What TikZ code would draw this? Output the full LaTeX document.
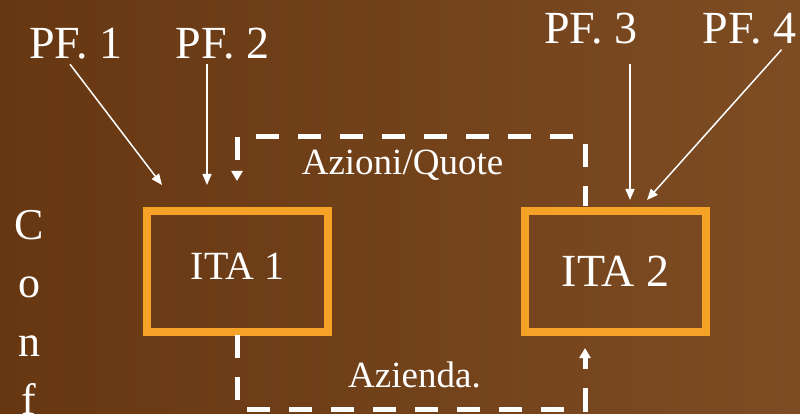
\documentclass[tikz,border=0pt]{standalone}
\usepackage{fontspec}
\setmainfont{Liberation Serif}
\usetikzlibrary{arrows.meta}
\definecolor{bgA}{HTML}{673712}
\definecolor{bgB}{HTML}{7D4C23}
\definecolor{boxor}{HTML}{F5A226}
\begin{document}
\begin{tikzpicture}[x=1pt,y=-1pt,
  lbl/.style={text=white,inner sep=0pt,font=\fontsize{46}{46}\selectfont},
  entity/.style={draw=boxor,line width=8pt,minimum width=181pt,minimum height=121pt,text=white,inner sep=0pt},
  feed/.style={draw=white,line width=1.5pt,-{Triangle[length=11pt,width=9pt]}},
  flow/.style={draw=white,line width=5pt,dash pattern=on 23pt off 19pt,-{Triangle[length=10pt,width=11pt]}},
  flowlbl/.style={text=white,inner sep=0pt,anchor=base,font=\fontsize{37}{37}\selectfont}]
\shade[shading angle=135,left color=bgA,right color=bgB] (0,0) rectangle (800,414);
\useasboundingbox (0,0) rectangle (800,414);
% entities
\node[entity,font=\fontsize{40}{40}\selectfont,text depth=10pt] (ita1) at (237.5,271.5) {ITA 1};
\node[entity,font=\fontsize{46}{46}\selectfont] (ita2) at (615.5,271.5) {ITA 2};
% owners
\node[lbl] (pf1) at (76,43.5) {PF. 1};
\node[lbl] (pf2) at (222.5,43.5) {PF. 2};
\node[lbl] (pf3) at (591,29) {PF. 3};
\node[lbl] (pf4) at (749.5,29) {PF. 4};
\node[lbl,align=center,anchor=north,font=\fontsize{44}{58.5}\selectfont] (conf) at (29,210) {C\\o\\n\\f};
% feed arrows
\coordinate (t1) at (162,185);
\coordinate (t2) at (207,185);
\coordinate (t3) at (630,200);
\coordinate (t4) at (647,200);
\draw[feed] ([xshift=-6pt,yshift=-5pt]pf1.south) -- (t1);
\draw[feed] ([xshift=-15.5pt,yshift=-5pt]pf2.south) -- (t2);
\draw[feed] ([xshift=39pt,yshift=-19pt]pf3.south) -- (t3);
\draw[feed] ([xshift=32pt,yshift=-5pt]pf4.south) -- (t4);
% dashed flows
\coordinate (q0) at (585,206);
\coordinate (q1) at (585,137);
\coordinate (q2) at (237,137);
\coordinate (q3) at (237,181);
\draw[flow,dash phase=3pt] (q0) -- (q1) -- (q2) -- (q3);
\node[flowlbl] (azq) at (402.5,175) {Azioni/Quote};
\coordinate (a0) at (237,335);
\coordinate (a1) at (237,409);
\coordinate (a2) at (585,409);
\coordinate (a3) at (585,348);
\draw[flow] (a0) -- (a1) -- (a2) -- (a3);
\node[flowlbl] (az) at (414.5,387) {Azienda.};
\end{tikzpicture}
\end{document}
